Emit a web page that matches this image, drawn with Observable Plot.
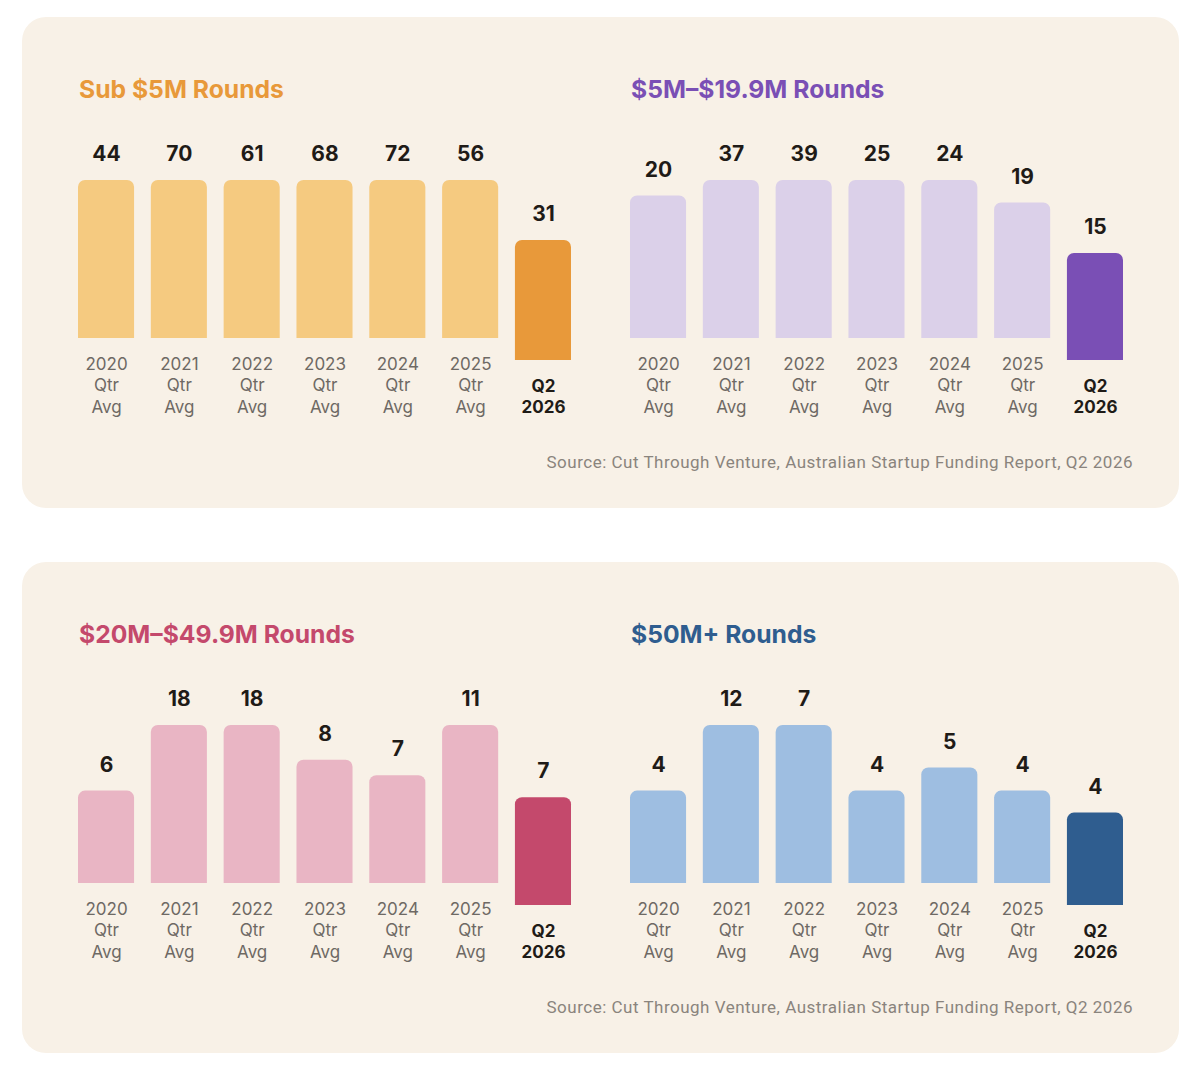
<!DOCTYPE html>
<html>
<head>
<meta charset="utf-8">
<script src="https://cdn.jsdelivr.net/npm/d3@7"></script>
<script src="https://cdn.jsdelivr.net/npm/@observablehq/plot@0.6"></script>
<style>
  html, body { margin: 0; padding: 0; background: #ffffff; }
  #root { position: relative; width: 1200px; height: 1072px; overflow: hidden; font-family: Inter, "Noto Sans", sans-serif; }
  .card { position: absolute; left: 22px; width: 1157px; height: 491px; background: #f8f1e7; border-radius: 24px; }
  .title { position: absolute; font-family: Inter, sans-serif; font-weight: 700; font-size: 24.7px; line-height: 30px; white-space: nowrap; }
  .source { position: absolute; right: 67px; font-family: Roboto, "Noto Sans", sans-serif; font-size: 17px; letter-spacing: 0.5px; color: #8a847d; white-space: nowrap; line-height: 20px; }
  .panel { position: absolute; }
</style>
</head>
<body>
<div id="root"></div>
<script>
// ---- data ----
const periods = ["2020 Qtr Avg", "2021 Qtr Avg", "2022 Qtr Avg", "2023 Qtr Avg", "2024 Qtr Avg", "2025 Qtr Avg", "Q2 2026"];
const tickLabels = ["2020\nQtr\nAvg", "2021\nQtr\nAvg", "2022\nQtr\nAvg", "2023\nQtr\nAvg", "2024\nQtr\nAvg", "2025\nQtr\nAvg", "Q2\n2026"];
const currentPeriod = "Q2 2026";
const sub5M = [44, 70, 61, 68, 72, 56, 31];
const from5to19 = [20, 37, 39, 25, 24, 19, 15];
const from20to49 = [6, 18, 18, 8, 7, 11, 7];
const over50M = [4, 12, 7, 4, 5, 4, 4];
const titles = ["Sub $5M Rounds", "$5M\u2013$19.9M Rounds", "$20M\u2013$49.9M Rounds", "$50M+ Rounds"];
const sourceText = "Source: Cut Through Venture, Australian Startup Funding Report, Q2 2026";

// ---- styles / layout ----
const panels = [
  {title: titles[0], values: sub5M, yMax: 40.8, light: "#f5ca80", dark: "#e8993a", left: 50, top: 130, titleLeft: 79, titleTop: 74},
  {title: titles[1], values: from5to19, yMax: 22.16, light: "#dbd0e9", dark: "#7a4fb5", left: 602, top: 130, titleLeft: 631, titleTop: 74},
  {title: titles[2], values: from20to49, yMax: 10.26, light: "#e9b5c4", dark: "#c4496c", left: 50, top: 675, titleLeft: 79, titleTop: 619},
  {title: titles[3], values: over50M, yMax: 6.84, light: "#9ebee1", dark: "#2f5d8f", left: 602, top: 675, titleLeft: 631, titleTop: 619}
];
const cardTops = [17, 562];
const sourceTops = [452, 997];
const qShift = 22;

const root = document.getElementById("root");
cardTops.forEach((t, i) => {
  const c = document.createElement("div");
  c.className = "card";
  c.style.top = t + "px";
  root.appendChild(c);
  const s = document.createElement("div");
  s.className = "source";
  s.style.top = sourceTops[i] + "px";
  s.textContent = sourceText;
  root.appendChild(s);
});

panels.forEach(p => {
  const t = document.createElement("div");
  t.className = "title";
  t.style.left = p.titleLeft + "px";
  t.style.top = p.titleTop + "px";
  t.style.color = p.dark;
  t.textContent = p.title;
  root.appendChild(t);

  const data = periods.map((period, i) => ({period, label: tickLabels[i], value: p.values[i], current: period === currentPeriod}));
  const hist = data.filter(d => !d.current);
  const cur = data.filter(d => d.current);

  const chart = Plot.plot({
    width: 552,
    height: 300,
    marginLeft: 28,
    marginRight: 31,
    marginTop: 50,
    marginBottom: 92,
    style: {background: "transparent", overflow: "visible"},
    x: {type: "band", domain: periods, paddingInner: 0.23, paddingOuter: 0, round: false, axis: null},
    y: {domain: [0, p.yMax], clamp: true, axis: null},
    marks: [
      Plot.barY(hist, {x: "period", y: "value", fill: p.light, ry1: 7}),
      Plot.barY(cur, {x: "period", y: "value", fill: p.dark, ry1: 7, dy: qShift}),
      Plot.text(hist, {x: "period", y: "value", text: d => String(d.value), dy: -26, fontSize: 21, fontWeight: 700, fill: "#1f1b17", fontFamily: "Inter, sans-serif"}),
      Plot.text(cur, {x: "period", y: "value", text: d => String(d.value), dy: -26 + qShift, fontSize: 21, fontWeight: 700, fill: "#1f1b17", fontFamily: "Inter, sans-serif"}),
      Plot.text(hist, {x: "period", y: () => 0, text: "label", dy: 46, lineAnchor: "middle", lineHeight: 1.27, fontSize: 17, fill: "#6e6964", fontFamily: "Inter, sans-serif"}),
      Plot.text(cur, {x: "period", y: () => 0, text: "label", dy: 35 + qShift, lineAnchor: "middle", lineHeight: 1.27, fontSize: 17, fontWeight: 700, fill: "#1f1b17", fontFamily: "Inter, sans-serif"})
    ]
  });
  const wrap = document.createElement("div");
  wrap.className = "panel";
  wrap.style.left = p.left + "px";
  wrap.style.top = p.top + "px";
  wrap.appendChild(chart);
  root.appendChild(wrap);
});
</script>
</body>
</html>
